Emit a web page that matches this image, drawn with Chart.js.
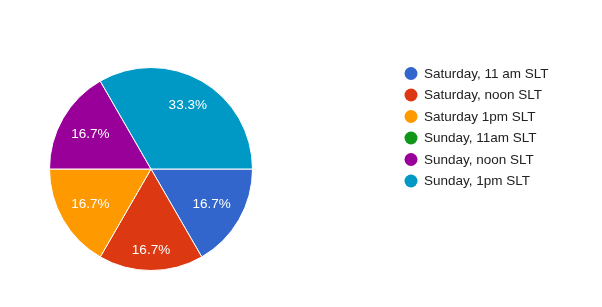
<!DOCTYPE html>
<html>
<head>
<meta charset="utf-8">
<script src="https://cdn.jsdelivr.net/npm/chart.js@4"></script>
<style>
    html, body { margin: 0; padding: 0; background: #fff; }
    #wrap { width: 602px; height: 307px; }
</style>
</head>
<body>
<div id="wrap"><canvas id="pieChart" width="602" height="307"></canvas></div>
<script>
// data
const categories = [
    "Saturday, 11 am SLT",
    "Saturday, noon SLT",
    "Saturday 1pm SLT",
    "Sunday, 11am SLT",
    "Sunday, noon SLT",
    "Sunday, 1pm SLT",
];
const responses = [1, 1, 1, 0, 1, 2];
const sliceColors = ["#3366cc", "#dc3912", "#ff9900", "#109618", "#990099", "#0099c6"];

const FONT = "Arial, 'Liberation Sans', sans-serif";

// percent labels inside each slice
const sliceLabels = {
    id: "sliceLabels",
    afterDatasetsDraw(chart) {
        const ctx = chart.ctx;
        const meta = chart.getDatasetMeta(0);
        const total = responses.reduce((a, b) => a + b, 0);
        ctx.save();
        ctx.font = "13.5px " + FONT;
        ctx.fillStyle = "#ffffff";
        ctx.textAlign = "center";
        ctx.textBaseline = "middle";
        meta.data.forEach((arc, i) => {
            if (!responses[i]) return;
            const mid = (arc.startAngle + arc.endAngle) / 2;
            // wide text near the vertical axis gets pushed outward a bit
            const r = arc.outerRadius * 0.69 + 11 * Math.pow(Math.abs(Math.sin(mid)), 8);
            const text = ((responses[i] / total) * 100).toFixed(1) + "%";
            ctx.fillText(text, arc.x + Math.cos(mid) * r, arc.y + Math.sin(mid) * r);
        });
        ctx.restore();
    },
};

// legend on the right, drawn by hand to match positions
const sideLegend = {
    id: "sideLegend",
    afterDraw(chart) {
        const ctx = chart.ctx;
        ctx.save();
        ctx.font = "13.5px " + FONT;
        ctx.textBaseline = "middle";
        categories.forEach((name, i) => {
            const y = 73.5 + i * 21.5;
            ctx.fillStyle = sliceColors[i];
            ctx.beginPath();
            ctx.arc(411, y, 6.5, 0, Math.PI * 2);
            ctx.fill();
            ctx.fillStyle = "#222222";
            ctx.fillText(name, 424, y + 0.5);
        });
        ctx.restore();
    },
};

const ctx = document.getElementById("pieChart").getContext("2d");
const pieChart = new Chart(ctx, {
    type: "pie",
    data: {
        labels: categories,
        datasets: [
            {
                data: responses,
                backgroundColor: sliceColors,
                borderColor: "#ffffff",
                borderWidth: 1,
            },
        ],
    },
    plugins: [sliceLabels, sideLegend],
    options: {
        responsive: false,
        animation: false,
        rotation: 90,
        layout: {
            padding: { left: 49, right: 349, top: 67, bottom: 36 },
        },
        plugins: {
            legend: { display: false },
            tooltip: { enabled: false },
        },
    },
});
</script>
</body>
</html>
